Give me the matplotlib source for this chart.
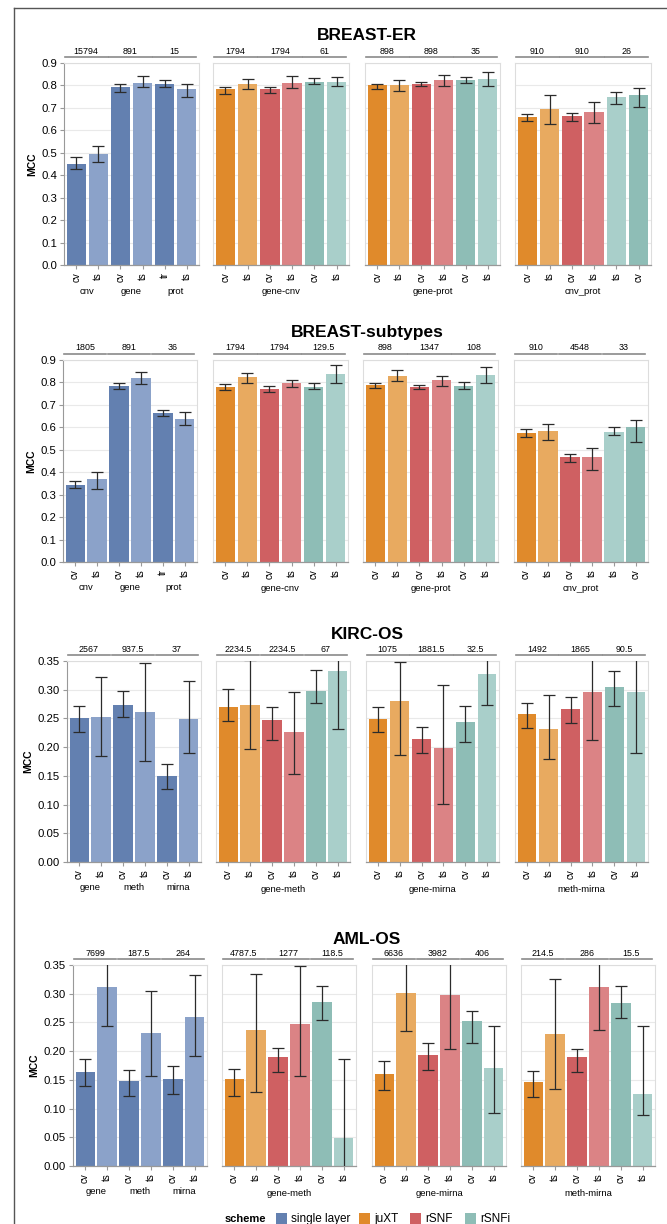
import matplotlib
matplotlib.use("Agg")
import matplotlib.pyplot as plt
from matplotlib.patches import Rectangle
from matplotlib.lines import Line2D
import matplotlib.transforms as mtransforms

plt.rcParams["font.family"] = ["Liberation Sans", "DejaVu Sans"]

titles = ["BREAST-ER", "BREAST-subtypes", "KIRC-OS", "AML-OS"]
schemes = ["single layer", "juXT", "rSNF", "rSNFi"]

# panel names (single layer panel has three groups, the others one)
breast_groups = [["cnv", "gene", "prot"], ["gene-cnv"], ["gene-prot"], ["cnv_prot"]]
omics_groups = [["gene", "meth", "mirna"], ["gene-meth"], ["gene-mirna"], ["meth-mirna"]]

breast_ticks = [["cv", "ts", "cv", "ts", "tr", "ts"],
                ["cv", "ts", "cv", "ts", "cv", "ts"],
                ["cv", "ts", "cv", "ts", "cv", "ts"],
                ["cv", "ts", "cv", "ts", "ts", "cv"]]
omics_ticks = [["cv", "ts"] * 3] * 4

# BREAST-ER
er_mcc = [[0.451, 0.495, 0.795, 0.812, 0.807, 0.783],
          [0.783, 0.805, 0.784, 0.810, 0.817, 0.817],
          [0.801, 0.802, 0.808, 0.823, 0.826, 0.827],
          [0.661, 0.695, 0.664, 0.683, 0.749, 0.759]]
er_low = [[0.426, 0.459, 0.771, 0.792, 0.792, 0.747],
          [0.762, 0.783, 0.765, 0.787, 0.805, 0.796],
          [0.786, 0.777, 0.796, 0.796, 0.810, 0.799],
          [0.642, 0.628, 0.643, 0.633, 0.719, 0.704]]
er_high = [[0.480, 0.529, 0.805, 0.842, 0.824, 0.805],
           [0.795, 0.827, 0.795, 0.842, 0.833, 0.838],
           [0.807, 0.823, 0.817, 0.847, 0.838, 0.860],
           [0.674, 0.759, 0.677, 0.725, 0.772, 0.790]]
er_counts = [["15794", "891", "15"], ["1794", "1794", "61"],
             ["898", "898", "35"], ["910", "910", "26"]]

# BREAST-subtypes
sub_mcc = [[0.345, 0.369, 0.786, 0.821, 0.664, 0.638],
           [0.780, 0.823, 0.771, 0.796, 0.781, 0.836],
           [0.787, 0.830, 0.778, 0.810, 0.786, 0.833],
           [0.573, 0.583, 0.469, 0.466, 0.579, 0.600]]
sub_low = [[0.329, 0.326, 0.771, 0.795, 0.650, 0.609],
           [0.768, 0.796, 0.756, 0.778, 0.772, 0.799],
           [0.777, 0.807, 0.771, 0.783, 0.769, 0.796],
           [0.555, 0.545, 0.445, 0.412, 0.567, 0.536]]
sub_high = [[0.362, 0.403, 0.798, 0.847, 0.677, 0.667],
            [0.792, 0.844, 0.783, 0.811, 0.796, 0.876],
            [0.796, 0.856, 0.789, 0.829, 0.801, 0.869],
            [0.591, 0.616, 0.481, 0.507, 0.603, 0.631]]
sub_counts = [["1805", "891", "36"], ["1794", "1794", "129.5"],
              ["898", "1347", "108"], ["910", "4548", "33"]]

# KIRC-OS
kirc_mcc = [[0.251, 0.253, 0.274, 0.261, 0.150, 0.249],
            [0.270, 0.274, 0.248, 0.227, 0.298, 0.333],
            [0.249, 0.281, 0.214, 0.199, 0.244, 0.327],
            [0.257, 0.231, 0.267, 0.296, 0.305, 0.296]]
kirc_low = [[0.226, 0.185, 0.252, 0.176, 0.127, 0.190],
            [0.245, 0.197, 0.213, 0.154, 0.277, 0.231],
            [0.226, 0.186, 0.190, 0.101, 0.209, 0.273],
            [0.233, 0.180, 0.242, 0.212, 0.272, 0.190]]
kirc_high = [[0.271, 0.322, 0.297, 0.346, 0.170, 0.315],
             [0.302, 0.351, 0.270, 0.296, 0.334, 0.435],
             [0.270, 0.349, 0.235, 0.308, 0.272, 0.381],
             [0.276, 0.291, 0.288, 0.380, 0.333, 0.402]]
kirc_counts = [["2567", "937.5", "37"], ["2234.5", "2234.5", "67"],
               ["1075", "1881.5", "32.5"], ["1492", "1865", "90.5"]]

# AML-OS
aml_mcc = [[0.164, 0.312, 0.148, 0.231, 0.151, 0.260],
           [0.151, 0.236, 0.190, 0.248, 0.286, 0.048],
           [0.160, 0.301, 0.194, 0.298, 0.253, 0.170],
           [0.146, 0.229, 0.189, 0.312, 0.284, 0.126]]
aml_low = [[0.140, 0.243, 0.122, 0.156, 0.126, 0.192],
           [0.122, 0.128, 0.163, 0.157, 0.254, -0.090],
           [0.133, 0.235, 0.168, 0.204, 0.214, 0.092],
           [0.120, 0.134, 0.164, 0.236, 0.258, 0.088]]
aml_high = [[0.186, 0.381, 0.168, 0.305, 0.174, 0.333],
            [0.169, 0.335, 0.206, 0.349, 0.313, 0.186],
            [0.182, 0.367, 0.215, 0.392, 0.270, 0.244],
            [0.166, 0.325, 0.203, 0.388, 0.313, 0.243]]
aml_counts = [["7699", "187.5", "264"], ["4787.5", "1277", "118.5"],
              ["6636", "3982", "406"], ["214.5", "286", "15.5"]]

dark = {"single layer": "#6380b0", "juXT": "#e08a2b", "rSNF": "#cf6062", "rSNFi": "#8ebdb6"}
light = {"single layer": "#8ba2c9", "juXT": "#e8aa60", "rSNF": "#db8385", "rSNFi": "#a9cfca"}

W, H = 667, 1224
fig = plt.figure(figsize=(W / 100, H / 100), dpi=100)

# layout in pixels: title y, plot top, plot bottom, panel x ranges
rows = [
    dict(title_y=35, top=63, bottom=265, xs=[(64, 199), (213, 349), (365, 500), (515, 651)],
         ymax=0.9, step=0.1, fmt="{:.1f}", mcc=er_mcc, low=er_low, high=er_high,
         counts=er_counts, ticks=breast_ticks, groups=breast_groups),
    dict(title_y=333, top=360, bottom=562, xs=[(63, 197), (213, 348), (363, 498), (514, 648)],
         ymax=0.9, step=0.1, fmt="{:.1f}", mcc=sub_mcc, low=sub_low, high=sub_high,
         counts=sub_counts, ticks=breast_ticks, groups=breast_groups),
    dict(title_y=634, top=661, bottom=862, xs=[(67, 201), (216, 350), (366, 499), (515, 648)],
         ymax=0.35, step=0.05, fmt="{:.2f}", mcc=kirc_mcc, low=kirc_low, high=kirc_high,
         counts=kirc_counts, ticks=omics_ticks, groups=omics_groups),
    dict(title_y=939, top=965, bottom=1166, xs=[(73, 207), (222, 356), (372, 506), (521, 655)],
         ymax=0.35, step=0.05, fmt="{:.2f}", mcc=aml_mcc, low=aml_low, high=aml_high,
         counts=aml_counts, ticks=omics_ticks, groups=omics_groups),
]

for r, row in enumerate(rows):
    fig.text(367 / W, 1 - row["title_y"] / H, titles[r], ha="center", va="center",
             fontsize=12.5, fontweight="bold")
    nticks = int(round(row["ymax"] / row["step"])) + 1
    yt = [i * row["step"] for i in range(nticks)]
    for p in range(4):
        x0, x1 = row["xs"][p]
        ax = fig.add_axes([x0 / W, 1 - row["bottom"] / H, (x1 - x0) / W,
                           (row["bottom"] - row["top"]) / H])
        labels = row["ticks"][p]
        vals = row["mcc"][p]
        lo = row["low"][p]
        hi = row["high"][p]
        if p == 0:
            sch = ["single layer"] * 6
        else:
            sch = ["juXT", "juXT", "rSNF", "rSNF", "rSNFi", "rSNFi"]
        cols = [light[s] if lab == "ts" else dark[s] for s, lab in zip(sch, labels)]
        xpos = list(range(6))
        ax.bar(xpos, vals, width=0.87, color=cols, zorder=2)
        yerr = [[v - l for v, l in zip(vals, lo)], [h - v for v, h in zip(vals, hi)]]
        ax.errorbar(xpos, vals, yerr=yerr, fmt="none", ecolor="#2b2b2b",
                    elinewidth=0.9, capsize=4.3, capthick=0.9, zorder=3)
        ax.set_xlim(-0.55, 5.55)
        ax.set_ylim(0, row["ymax"])
        ax.set_yticks(yt)
        ax.grid(axis="y", color="#e9e9e9", linewidth=0.8, zorder=0)
        ax.set_axisbelow(True)
        for side in ["top", "right", "left"]:
            ax.spines[side].set_color("#dddddd")
            ax.spines[side].set_linewidth(0.8)
        ax.spines["bottom"].set_color("#999999")
        ax.spines["bottom"].set_linewidth(0.9)
        ax.set_xticks(xpos)
        ax.set_xticklabels(labels, rotation=90, fontsize=7)
        ax.tick_params(axis="x", length=3, width=0.8, color="#999999", pad=2)
        if p == 0:
            ax.spines["left"].set_color("#999999")
            ax.set_yticklabels([row["fmt"].format(v) for v in yt], fontsize=8.2)
            ax.tick_params(axis="y", length=3, width=0.8, color="#999999", pad=2)
            ax.set_ylabel("MCC", fontsize=7.5, fontweight="bold", labelpad=3)
        else:
            ax.tick_params(axis="y", length=0, labelleft=False)

        hgt = row["bottom"] - row["top"]
        trans = mtransforms.blended_transform_factory(ax.transData, ax.transAxes)
        for g in range(3):
            ax.plot([2 * g - 0.52, 2 * g + 1.42], [1 + 6 / hgt, 1 + 6 / hgt],
                    color="#8a8a8a", linewidth=1.2, transform=trans, clip_on=False)
            ax.text(2 * g + 0.45, 1 + 7.5 / hgt, row["counts"][p][g], ha="center",
                    va="bottom", fontsize=6.4, transform=trans)
        groups = row["groups"][p]
        if len(groups) == 3:
            for g in range(3):
                ax.text(2 * g + 0.5, -26 / hgt, groups[g], ha="center", va="center",
                        fontsize=6.8, transform=trans)
        else:
            ax.text(2.5, -27 / hgt, groups[0], ha="center", va="center",
                    fontsize=6.8, transform=trans)

# legend
ly = 1 - 1219 / H
fig.text(225 / W, ly, "scheme", ha="left", va="center", fontsize=8, fontweight="bold")
legend_x = [276, 359, 410, 465]
for lx, s in zip(legend_x, schemes):
    fig.patches.append(Rectangle((lx / W, ly - 6 / H), 11 / W, 12 / H,
                                 transform=fig.transFigure, facecolor=dark[s],
                                 edgecolor="none"))
    fig.text((lx + 15) / W, ly, s, ha="left", va="center", fontsize=8.5)

# outer frame (top and left edges)
fig.lines.append(Line2D([14 / W, 1], [1 - 8 / H, 1 - 8 / H], transform=fig.transFigure,
                        color="#555555", linewidth=1.0))
fig.lines.append(Line2D([14 / W, 14 / W], [0, 1 - 8 / H], transform=fig.transFigure,
                        color="#555555", linewidth=1.0))

fig.savefig("out.png", dpi=100)
plt.close(fig)
